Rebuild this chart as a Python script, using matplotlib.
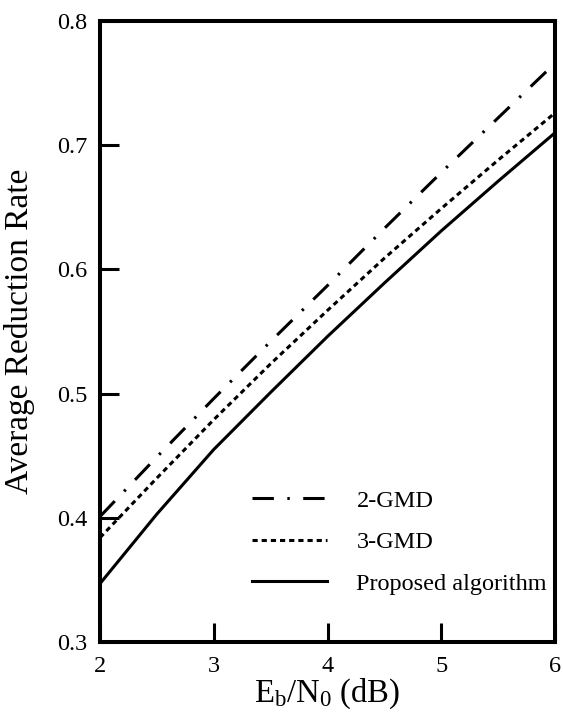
import matplotlib
matplotlib.use('Agg')
import matplotlib.pyplot as plt

plt.rcParams['font.family'] = ['Liberation Serif', 'DejaVu Serif']
plt.rcParams['mathtext.fontset'] = 'custom'
plt.rcParams['mathtext.rm'] = 'Liberation Serif'
plt.rcParams['mathtext.it'] = 'Liberation Serif:italic'

# data
ebn0 = [2.0, 2.5, 3.0, 3.5, 4.0, 4.5, 5.0, 5.5, 6.0]
gmd2 = [0.401, 0.449, 0.496, 0.542, 0.587, 0.633, 0.678, 0.722, 0.766]
gmd3 = [0.384, 0.432, 0.479, 0.524, 0.567, 0.609, 0.649, 0.688, 0.726]
proposed = [0.347, 0.403, 0.455, 0.501, 0.546, 0.589, 0.631, 0.671, 0.710]

x_ticks = [2, 3, 4, 5, 6]
y_ticks = [0.3, 0.4, 0.5, 0.6, 0.7, 0.8]

fig = plt.figure(figsize=(5.63, 7.26), dpi=100)
fig.patch.set_facecolor('white')
ax = fig.add_axes([100/563, 1 - 642/726, 455/563, 621/726])

lw = 2.2
ax.plot(ebn0, gmd2, color='black', lw=lw, linestyle=(0, (7.0, 4.4, 0.8, 4.4)),
        label='2-GMD')
ax.plot(ebn0, gmd3, color='black', lw=lw, linestyle=(0, (1.7, 1.3)),
        label='3-GMD')
ax.plot(ebn0, proposed, color='black', lw=lw, linestyle='-',
        label='Proposed algorithm')

ax.set_xlim(2, 6)
ax.set_ylim(0.3, 0.8)
ax.set_xticks(x_ticks)
ax.set_xticklabels([str(v) for v in x_ticks])
ax.set_yticks(y_ticks)
ax.set_yticklabels(['%.1f' % v for v in y_ticks])

for s in ax.spines.values():
    s.set_linewidth(2.9)
ax.tick_params(direction='in', length=14, width=2.2, labelsize=17.5,
               top=False, right=False)
ax.tick_params(axis='y', pad=9)
ax.tick_params(axis='x', pad=10)

ax.set_xlabel(r'$\mathrm{E_b/N_0}$ (dB)', fontsize=23.5, labelpad=0)
ax.set_ylabel('Average Reduction Rate', fontsize=24)
ax.yaxis.set_label_coords(-0.143, 0.5)

ax.legend(loc='upper left', bbox_to_anchor=(0.334, 0.245), frameon=False,
          fontsize=17.5, handlelength=3.1, handletextpad=1.2, labelspacing=0.8,
          borderpad=0, borderaxespad=0)

fig.savefig('out.png', dpi=100, facecolor='white')
